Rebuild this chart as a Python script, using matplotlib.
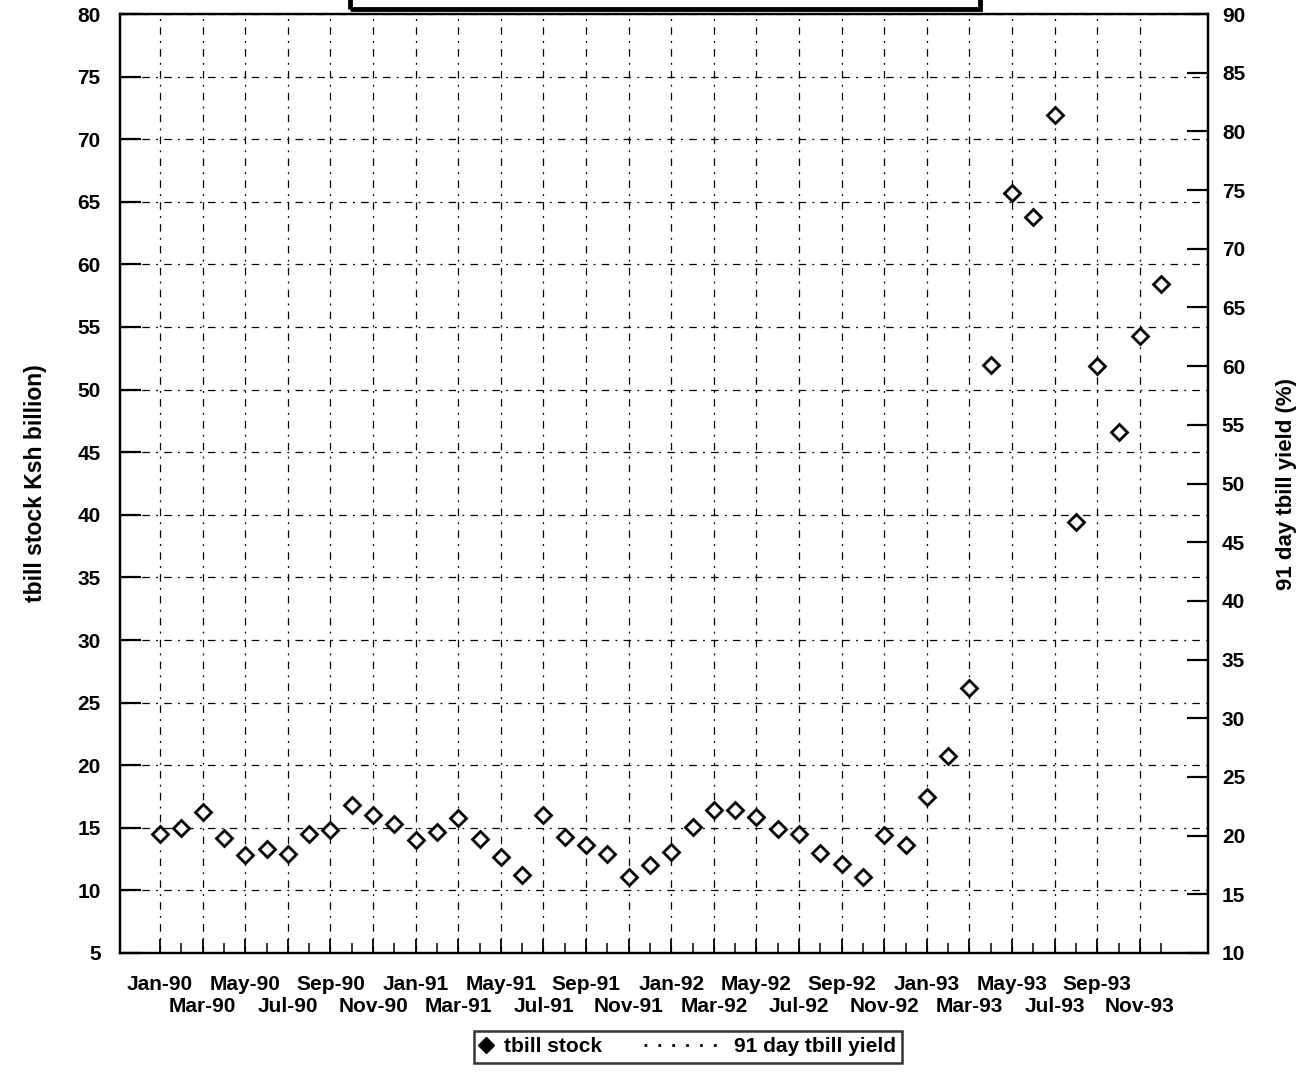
import matplotlib
matplotlib.use("Agg")
import matplotlib.pyplot as plt
from matplotlib.lines import Line2D
from matplotlib.patches import Rectangle
from matplotlib.legend_handler import HandlerLine2D
import numpy as np

plt.rcParams['font.family'] = ['Liberation Sans', 'DejaVu Sans']
plt.rcParams['font.weight'] = 'bold'

months = ["Jan", "Feb", "Mar", "Apr", "May", "Jun", "Jul", "Aug", "Sep", "Oct", "Nov", "Dec"]
years = ["90", "91", "92", "93"]
dates = [f"{m}-{y}" for y in years for m in months]

tbill_stock = [14.5, 15.0, 16.3, 14.2, 12.8, 13.3, 12.9, 14.5, 14.8, 16.8, 16.0, 15.3,
               14.0, 14.7, 15.8, 14.1, 12.7, 11.2, 16.0, 14.3, 13.6, 12.9, 11.1, 12.0,
               13.1, 15.1, 16.4, 16.4, 15.9, 14.9, 14.5, 13.0, 12.1, 11.1, 14.4, 13.6,
               17.5, 20.7, 26.2, 52.0, 65.7, 63.8, 71.9, 39.4, 51.9, 46.6, 54.3, 58.4]

left_ticks = list(range(5, 81, 5))
right_ticks = list(range(10, 91, 5))

FS = 15

fig = plt.figure(figsize=(13.12, 10.74), dpi=100)
ax = fig.add_axes([120/1312, 1 - 953/1074, (1208 - 120)/1312, (953 - 14)/1074])

x = np.arange(len(dates))
ax.plot(x, tbill_stock, linestyle='none', marker='D', markersize=8.5,
        markerfacecolor='white', markeredgecolor='black', markeredgewidth=2.0, zorder=3)

ax.set_xlim(-1.88, 49.2)
ax.set_ylim(5, 80)
ax.set_yticks(left_ticks)
ax.set_yticklabels([str(v) for v in left_ticks], fontsize=FS, fontweight='bold')

major_x = x[::2]
ax.set_xticks(major_x)
ax.set_xticklabels([])
ax.set_xticks(x, minor=True)

ax.tick_params(axis='x', which='major', direction='in', length=10, width=1.3)
ax.tick_params(axis='x', which='minor', direction='in', length=7, width=1.1)
ax.tick_params(axis='y', which='major', direction='in', length=15, width=1.6, pad=14)

ax.grid(True, which='major', axis='both', color='black', linestyle=(0, (6, 5, 1.5, 5)),
        linewidth=0.9)
for s in ax.spines.values():
    s.set_linewidth(1.6)

# two rows of date labels
row1 = x[::4]
row2 = x[2::4]
for pos, pad in ((row1, 16), (row2, 32)):
    sec = ax.secondary_xaxis('bottom')
    sec.set_xticks(pos)
    sec.set_xticklabels([dates[i] for i in pos], fontsize=FS, fontweight='bold')
    sec.tick_params(axis='x', length=0, pad=pad)
    for s in sec.spines.values():
        s.set_visible(False)

ax2 = ax.twinx()
ax2.set_ylim(10, 90)
ax2.set_yticks(right_ticks)
ax2.set_yticklabels([str(v) for v in right_ticks], fontsize=FS, fontweight='bold')
ax2.tick_params(axis='y', direction='in', length=15, width=1.6, pad=10)
for s in ax2.spines.values():
    s.set_linewidth(1.6)

ax.set_ylabel("tbill stock Ksh billion)", fontsize=16.5, fontweight='bold', labelpad=22)
ax2.set_ylabel("91 day tbill yield (%)", fontsize=16, fontweight='bold', rotation=90,
               labelpad=22)

h_stock = Line2D([], [], linestyle='none', marker='D', markersize=8, color='black')
h_yield = Line2D([], [], linestyle=(0, (1, 4)), color='black', linewidth=2)
leg = fig.legend([h_stock, h_yield], ["tbill stock", "91 day tbill yield"], ncol=2,
                 loc='center', bbox_to_anchor=(688/1312, 1 - 1047/1074),
                 prop={'size': FS, 'weight': 'bold'}, frameon=True, fancybox=False,
                 handlelength=0.6, handletextpad=0.55, columnspacing=5.2,
                 borderpad=0.3, borderaxespad=0,
                 handler_map={h_yield: HandlerLine2D(xpad=-3.2)})
leg.get_frame().set_edgecolor('black')
leg.get_frame().set_linewidth(1.8)

# partially visible title box at the top edge
fig.patches.append(Rectangle((350/1312, 1 - 9/1074), 630/1312, 0.05,
                             transform=fig.transFigure, fill=False,
                             edgecolor='black', linewidth=3.5, clip_on=False))

fig.savefig("out.png", dpi=100, facecolor='white')
